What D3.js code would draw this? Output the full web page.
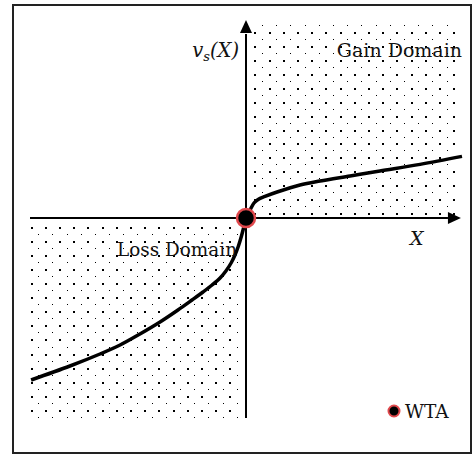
<!DOCTYPE html>
<html><head><meta charset="utf-8">
<script src="https://cdn.jsdelivr.net/npm/d3@7"></script>
<style>html,body{margin:0;padding:0;background:#fff}svg{display:block}</style>
</head><body><svg id="c" width="473" height="454"></svg>
<script>
// value function points (x, v_s(x)) in abstract units
const lossX = [-9.95,-8.15,-6.76,-5.83,-4.91,-3.98,-3.15,-2.5,-1.99,-1.57,-1.2,-0.93,-0.69,-0.51,-0.35,-0.21,-0.09,0];
const lossY = [-8.1,-7.4,-6.8,-6.35,-5.8,-5.2,-4.6,-4.1,-3.7,-3.35,-3.0,-2.65,-2.25,-1.85,-1.4,-0.9,-0.4,0];
const gainX = [0.19,0.37,0.56,0.88,1.44,2.5,3.43,4.82,6.2,8.06,10];
const gainY = [0.4,0.75,0.93,1.08,1.3,1.65,1.85,2.1,2.35,2.68,3.08];
const wtaPoint = [{x:0,y:0}];
const labels = {y:"v", ysub:"s", yrest:"(X)", x:"X", gain:"Gain Domain", loss:"Loss Domain", legend:"WTA"};

const svg = d3.select("#c");
const x = d3.scaleLinear().domain([-10,10]).range([30,462]);
const y = d3.scaleLinear().domain([-10,10]).range([418,18]);
const serif = "'DejaVu Serif', serif";

// frame
svg.append("rect").attr("x",13).attr("y",5).attr("width",458).attr("height",448)
  .attr("fill","none").attr("stroke","#222").attr("stroke-width",2);

// dotted regions
function dots(x0,x1,y0,y1,bx,by,px,py){
  const g = svg.append("g");
  const kx0 = Math.ceil((x0-bx)/px), kx1 = Math.floor((x1-bx)/px);
  const ky0 = Math.ceil((y0-by)/py)-1, ky1 = Math.floor((y1-by)/py);
  const big=[], small=[];
  for(let i=kx0-1;i<=kx1;i++) for(let j=ky0;j<=ky1;j++){
    const cx = bx+i*px, cy = by+j*py;
    if(cx>=x0 && cx<=x1 && cy>=y0 && cy<=y1) big.push([cx,cy]);
    const sx = cx+px/2, sy = cy+py*0.47;
    if(sx>=x0 && sx<=x1 && sy>=y0 && sy<=y1) small.push([sx,sy]);
  }
  g.selectAll(".b").data(big).join("rect").attr("x",d=>Math.round(d[0]-1)).attr("y",d=>Math.round(d[1]-1))
    .attr("width",2).attr("height",2).attr("fill","#000");
  g.selectAll(".s").data(small).join("rect").attr("x",d=>Math.round(d[0]-0.5)).attr("y",d=>Math.round(d[1]-0.5))
    .attr("width",1).attr("height",1).attr("fill","#000");
}
dots(x(0)+4, 461, 22, y(0)-2, 255.3, 61, 14.2, 13.9);
dots(30, x(0)-3, y(0)+3, 419, 45.7, 382.7, 14.2, 14.1);

// axes
svg.append("line").attr("x1",x(0)).attr("x2",x(0)).attr("y1",y(-10)).attr("y2",y(9.2))
  .attr("stroke","#000").attr("stroke-width",2);
svg.append("path").attr("d",`M${x(0)},${y(9.9)}L${x(0)-6},${y(9.25)}L${x(0)+6},${y(9.25)}Z`).attr("fill","#000");
svg.append("line").attr("x1",x(-10)).attr("x2",x(9.35)).attr("y1",y(0)).attr("y2",y(0))
  .attr("stroke","#000").attr("stroke-width",2);
svg.append("path").attr("d",`M${x(9.95)},${y(0)}L${x(9.35)},${y(0)-6}L${x(9.35)},${y(0)+6}Z`).attr("fill","#000");

// curve
const pts = lossX.map((v,i)=>({x:v,y:lossY[i]})).concat(gainX.map((v,i)=>({x:v,y:gainY[i]})));
const line = d3.line().x(d=>x(d.x)).y(d=>y(d.y)).curve(d3.curveCatmullRom.alpha(0.5));
svg.append("path").datum(pts).attr("d",line).attr("fill","none").attr("stroke","#000")
  .attr("stroke-width",3.5).attr("stroke-linecap","butt");

// WTA point
svg.selectAll(".wta").data(wtaPoint).join("circle").attr("cx",d=>x(d.x)).attr("cy",d=>y(d.y))
  .attr("r",9).attr("fill","#000").attr("stroke","#e0484c").attr("stroke-width",2.5);

// labels
const yl = svg.append("text").attr("x",239).attr("y",57).attr("text-anchor","end")
  .attr("font-family",serif).attr("font-size",19.5).attr("font-style","italic").attr("fill","#111");
yl.append("tspan").text(labels.y);
yl.append("tspan").attr("dy",4).attr("font-size",13).text(labels.ysub);
yl.append("tspan").attr("dy",-4).text(labels.yrest);

svg.append("text").attr("x",462).attr("y",57).attr("text-anchor","end")
  .attr("font-family",serif).attr("font-size",19).attr("fill","#111").text(labels.gain);
svg.append("text").attr("x",117).attr("y",256).attr("textLength",120).attr("lengthAdjust","spacingAndGlyphs")
  .attr("font-family",serif).attr("font-size",18.5).attr("fill","#111").text(labels.loss);
svg.append("text").attr("x",410).attr("y",245)
  .attr("font-family",serif).attr("font-size",19).attr("font-style","italic").attr("fill","#111").text(labels.x);

// legend
svg.append("circle").attr("cx",394).attr("cy",411).attr("r",5.5).attr("fill","#000")
  .attr("stroke","#e0484c").attr("stroke-width",2);
svg.append("text").attr("x",405).attr("y",418)
  .attr("font-family",serif).attr("font-size",18.5).attr("fill","#111").text(labels.legend);
</script></body></html>
